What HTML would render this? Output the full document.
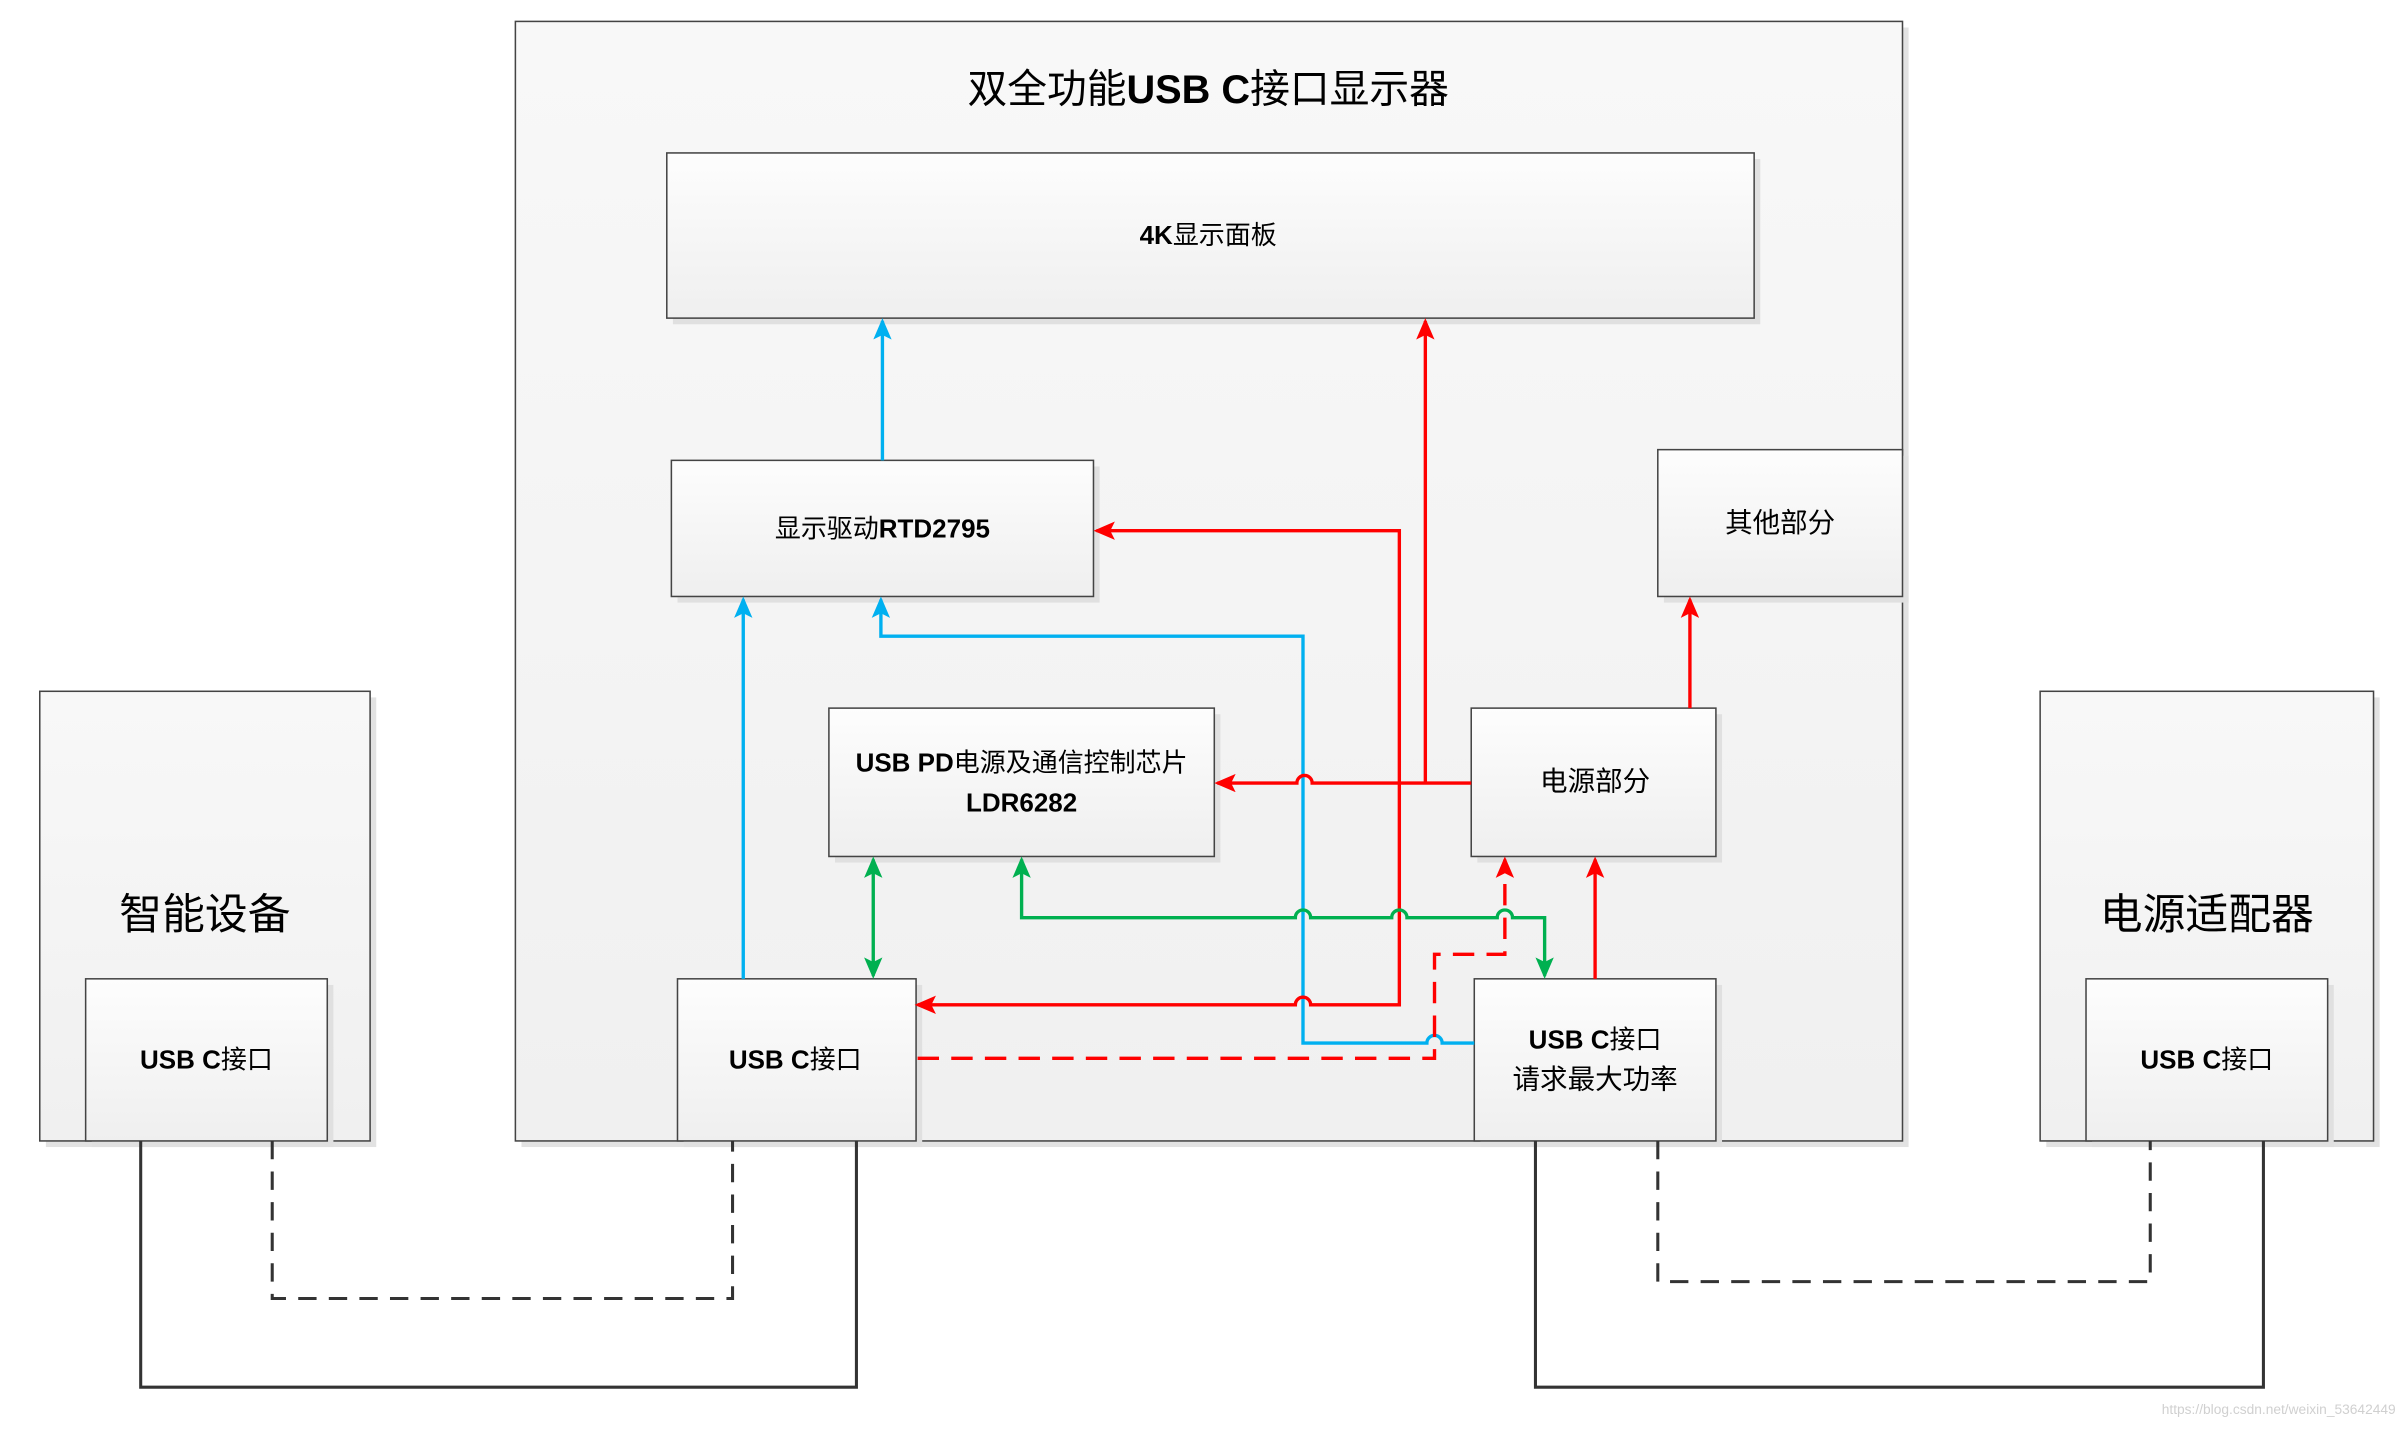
<!DOCTYPE html>
<html><head><meta charset="utf-8"><style>
html,body{margin:0;padding:0;background:#fff;}
svg{display:block}
text{font-family:"Liberation Sans","Noto Sans CJK SC",sans-serif;fill:#000;text-anchor:middle;dominant-baseline:middle}
</style></head><body>
<svg width="2398" height="1430" viewBox="0 0 1568 935" preserveAspectRatio="none" xmlns="http://www.w3.org/2000/svg">
<defs>
<linearGradient id="g" x1="0" y1="0" x2="0" y2="1"><stop offset="0" stop-color="#fdfdfd"/><stop offset="1" stop-color="#efefef"/></linearGradient>
<linearGradient id="g2" x1="0" y1="0" x2="0" y2="1"><stop offset="0" stop-color="#f8f8f8"/><stop offset="1" stop-color="#f0f0f0"/></linearGradient>
<marker id="ab" markerWidth="14" markerHeight="12" refX="12" refY="6" orient="auto" markerUnits="userSpaceOnUse"><path d="M0,0 L14,6 L0,12 L3,6z" fill="#00b0f0"/></marker>
<marker id="ar" markerWidth="14" markerHeight="12" refX="12" refY="6" orient="auto" markerUnits="userSpaceOnUse"><path d="M0,0 L14,6 L0,12 L3,6z" fill="#f00"/></marker>
<marker id="ag" markerWidth="14" markerHeight="12" refX="12" refY="6" orient="auto" markerUnits="userSpaceOnUse"><path d="M0,0 L14,6 L0,12 L3,6z" fill="#00b050"/></marker>
<marker id="ags" markerWidth="14" markerHeight="12" refX="2" refY="6" orient="auto" markerUnits="userSpaceOnUse"><path d="M14,0 L0,6 L14,12 L11,6z" fill="#00b050"/></marker>
</defs>
<g stroke="#444" stroke-width="1">
<rect x="341" y="18" width="907" height="732" fill="#e2e2e2" stroke="none"/>
<rect x="337" y="14" width="907" height="732" fill="url(#g2)"/>
<rect x="30" y="456" width="216" height="294" fill="#e2e2e2" stroke="none"/>
<rect x="26" y="452" width="216" height="294" fill="url(#g2)"/>
<rect x="1338" y="456" width="218" height="294" fill="#e2e2e2" stroke="none"/>
<rect x="1334" y="452" width="218" height="294" fill="url(#g2)"/>
</g>
<g stroke="#444" stroke-width="1">
<g fill="#e0e0e0" stroke="none">
<rect x="440" y="104" width="711" height="108"/><rect x="443" y="305" width="276" height="89"/>
<rect x="1088" y="298" width="160" height="96"/><rect x="546" y="467" width="252" height="97"/>
<rect x="966" y="467" width="160" height="97"/><rect x="447" y="644" width="156" height="106"/>
<rect x="968" y="644" width="158" height="106"/><rect x="60" y="644" width="158" height="106"/>
<rect x="1368" y="644" width="158" height="106"/>
</g>
<rect x="436" y="100" width="711" height="108" fill="url(#g)"/>
<rect x="439" y="301" width="276" height="89" fill="url(#g)"/>
<rect x="1084" y="294" width="160" height="96" fill="url(#g)"/>
<rect x="542" y="463" width="252" height="97" fill="url(#g)"/>
<rect x="962" y="463" width="160" height="97" fill="url(#g)"/>
<rect x="443" y="640" width="156" height="106" fill="url(#g)"/>
<rect x="964" y="640" width="158" height="106" fill="url(#g)"/>
<rect x="56" y="640" width="158" height="106" fill="url(#g)"/>
<rect x="1364" y="640" width="158" height="106" fill="url(#g)"/>
</g>
<text x="790" y="60" font-size="26">双全功能<tspan font-weight="bold">USB C</tspan>接口显示器</text>
<text x="790" y="155" font-size="17"><tspan font-weight="bold">4K</tspan>显示面板</text>
<text x="577" y="347" font-size="17">显示驱动<tspan font-weight="bold">RTD2795</tspan></text>
<text x="1164" y="343" font-size="18">其他部分</text>
<text x="668" y="500" font-size="17"><tspan font-weight="bold">USB PD</tspan>电源及通信控制芯片</text>
<text x="668" y="526" font-size="17" font-weight="bold">LDR6282</text>
<text x="1043" y="512" font-size="18">电源部分</text>
<text x="520" y="694" font-size="17"><tspan font-weight="bold">USB C</tspan>接口</text>
<text x="1043" y="681" font-size="17"><tspan font-weight="bold">USB C</tspan>接口</text>
<text x="1043" y="707" font-size="18">请求最大功率</text>
<text x="135" y="694" font-size="17"><tspan font-weight="bold">USB C</tspan>接口</text>
<text x="1443" y="694" font-size="17"><tspan font-weight="bold">USB C</tspan>接口</text>
<text x="134" y="600" font-size="28">智能设备</text>
<text x="1443" y="600" font-size="28">电源适配器</text>
<g fill="none" stroke-width="2.2">
<g stroke="#00b0f0">
<path d="M577,301 V210" marker-end="url(#ab)"/>
<path d="M486,640 V392" marker-end="url(#ab)"/>
<path d="M964,682 H943 a5,5 0 0 0 -10,0 H852 V416 H576 V392" marker-end="url(#ab)"/>
</g>
<g stroke="#f00">
<path d="M962,512 H858 a5,5 0 0 0 -10,0 H796" marker-end="url(#ar)"/>
<path d="M932,512 V210" marker-end="url(#ar)"/>
<path d="M915,512 V347 H717" marker-end="url(#ar)"/>
<path d="M915,512 V657 H857 a5,5 0 0 0 -10,0 H600" marker-end="url(#ar)"/>
<path d="M1043,640 V562" marker-end="url(#ar)"/>
<path d="M1105,463 V392" marker-end="url(#ar)"/>
<path d="M600,692 H938 V624 H984 V562" stroke-dasharray="14,8" marker-end="url(#ar)"/>
</g>
<g stroke="#00b050">
<path d="M668,562 V600 H847 a5,5 0 0 1 10,0 H910 a5,5 0 0 1 10,0 H979 a5,5 0 0 1 10,0 H1010 V638" marker-start="url(#ags)" marker-end="url(#ag)"/>
<path d="M571,562 V638" marker-start="url(#ags)" marker-end="url(#ag)"/>
</g>
<g stroke="#333" stroke-width="2">
<path d="M92,746 V907 H560 V746"/>
<path d="M1004,746 V907 H1480 V746"/>
<path d="M178,746 V849 H479 V746" stroke-dasharray="12,8"/>
<path d="M1084,746 V838 H1406 V746" stroke-dasharray="12,8"/>
</g>
</g>
<text x="1490" y="922" font-size="9" style="fill:#d0d0d0">https://blog.csdn.net/weixin_53642449</text>
</svg>
</body></html>
